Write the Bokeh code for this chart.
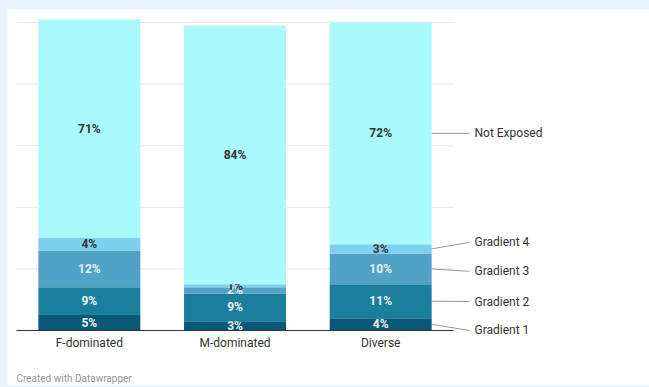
from bokeh.plotting import figure
from bokeh.models import ColumnDataSource, Range1d
from bokeh.core.properties import value
from bokeh.embed import file_html
from bokeh.resources import INLINE

# ---- data ----
categories = ["F-dominated", "M-dominated", "Diverse"]
series_names = ["Gradient 1", "Gradient 2", "Gradient 3", "Gradient 4", "Not Exposed"]
gradient_1 = [5, 3, 4]
gradient_2 = [9, 9, 11]
gradient_3 = [12, 2, 10]
gradient_4 = [4, 1, 3]
not_exposed = [71, 84, 72]
gridline_values = [20, 40, 60, 80, 100]
credit = "Created with Datawrapper"

# ---- styles / layout ----
series_values = [gradient_1, gradient_2, gradient_3, gradient_4, not_exposed]
colors = ["#08587a", "#1c7e9d", "#51a3c6", "#7dd0ee", "#aaf9fd"]
label_colors = ["#eef6f9", "#eef6f9", "#e4eff4", "#333333", "#333333"]
legend_text_y = [0, 9.4, 19.2, 28.6, 64]
FONT = "Roboto"
BAR_W = 0.70
CAT_LABEL_Y = -3.9
CREDIT_Y = -15.5

xs = list(range(len(categories)))

p = figure(width=642, height=376, output_backend="svg", toolbar_location=None,
           x_range=Range1d(-0.5618, 3.8454), y_range=Range1d(-17.86, 104.22),
           x_axis_location=None, y_axis_location=None,
           min_border_left=0, min_border_right=0, min_border_top=0, min_border_bottom=0)
p.outline_line_color = None
p.background_fill_color = "white"
p.border_fill_color = "white"
p.xgrid.visible = False
p.ygrid.visible = False

# gridlines
p.segment(x0=[-0.5] * len(gridline_values), x1=[2.5] * len(gridline_values),
          y0=gridline_values, y1=gridline_values, line_color="#e6e6e6", line_width=1)

# stacked bars + labels
bottom = [0.0] * len(categories)
for name, vals, col, lcol in zip(series_names, series_values, colors, label_colors):
    top = [b + v for b, v in zip(bottom, vals)]
    src = ColumnDataSource(dict(x=xs, bottom=bottom, top=top,
                                mid=[(b + t) / 2 for b, t in zip(bottom, top)],
                                txt=[f"{v}%" for v in vals]))
    p.vbar(x="x", bottom="bottom", top="top", width=BAR_W, source=src,
           fill_color=col, line_color=None)
    p.text(x="x", y="mid", text="txt", source=src, text_align="center",
           text_baseline="middle", text_font=value(FONT), text_font_style="bold",
           text_font_size="12px", text_color=lcol)
    bottom = top

# baseline
p.segment(x0=[-0.5], x1=[2.5], y0=[0], y1=[0], line_color="#333333", line_width=1)

# category labels
p.text(x=xs, y=[CAT_LABEL_Y] * len(xs), text=categories, text_align="center",
       text_baseline="middle", text_font=value(FONT), text_font_size="12px",
       text_color="#333333")

# direct labels on the right (from last category)
last = len(categories) - 1
cum = 0.0
lx0, lx1, ly0, ly1 = [], [], [], []
for name, vals, ty in zip(series_names, series_values, legend_text_y):
    centre = cum + vals[last] / 2
    cum += vals[last]
    lx0.append(last + BAR_W / 2); lx1.append(last + 0.61)
    ly0.append(centre); ly1.append(ty)
p.segment(x0=lx0, x1=lx1, y0=ly0, y1=ly1, line_color="#999999", line_width=1)
p.text(x=[last + 0.644] * len(series_names), y=legend_text_y, text=series_names,
       text_align="left", text_baseline="middle", text_font=value(FONT),
       text_font_size="12px", text_color="#333333")

# credit
p.text(x=[-0.5], y=[CREDIT_Y], text=[credit], text_align="left",
       text_baseline="middle", text_font=value(FONT), text_font_size="10px",
       text_color="#949494")

html = file_html(p, INLINE)
html = html.replace("</head>",
                    "<style>html,body{background:#eaf4fd;}body{padding:9px 0 0 7px;}</style></head>", 1)
open("out.html", "w").write(html)
